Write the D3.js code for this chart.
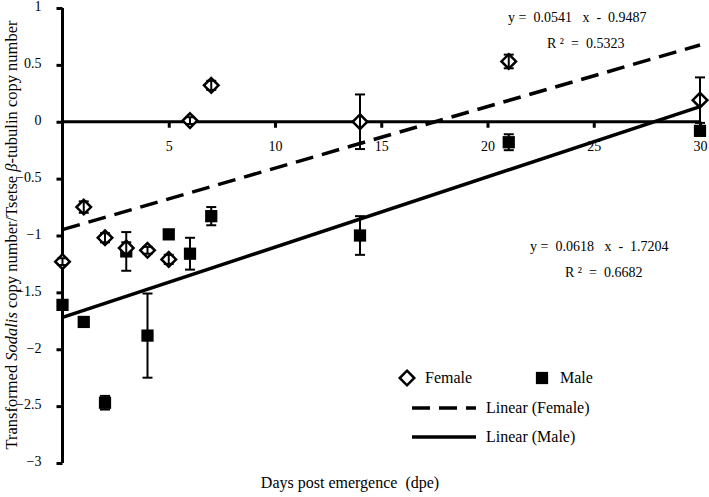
<!DOCTYPE html>
<html>
<head>
<meta charset="utf-8">
<script src="https://cdn.jsdelivr.net/npm/d3@7"></script>
<style>
  body { margin: 0; background: #fff; }
  svg text { font-family: "Liberation Serif", "DejaVu Serif", serif; fill: #000; }
</style>
</head>
<body>
<div id="chart"></div>
<script>
// Data
const days = [0, 1, 2, 3, 4, 5, 6, 7, 14, 21, 30];
const femaleMean = [-1.23, -0.75, -1.02, -1.11, -1.13, -1.21, 0.01, 0.32, 0.0, 0.53, 0.19];
const femaleErr = [0.03, 0.05, 0.04, 0.05, 0.03, 0.04, 0.03, 0.04, 0.24, 0.06, 0.2];
const maleMean = [-1.61, -1.76, -2.47, -1.14, -1.88, -0.99, -1.16, -0.83, -1.0, -0.18, -0.08];
const maleErr = [0.03, 0.02, 0.06, 0.17, 0.37, 0.03, 0.14, 0.08, 0.17, 0.07, 0.03];
const xTicks = [5, 10, 15, 20, 25, 30];
const yTicks = [1, 0.5, 0, -0.5, -1, -1.5, -2, -2.5, -3];
const femaleFit = { slope: 0.0541, intercept: -0.9487, r2: '0.5323' };
const maleFit = { slope: 0.0618, intercept: -1.7204, r2: '0.6682' };

const width = 709;
const height = 497;

const svg = d3.select('#chart').append('svg')
  .attr('width', width)
  .attr('height', height)
  .attr('font-family', '"Liberation Serif", "DejaVu Serif", serif');

// Scales
const x = d3.scaleLinear().domain([0, 30]).range([62.5, 700]);
const y = d3.scaleLinear().domain([-3, 1]).range([463, 8]);

// Y axis (vertical line on the left)
const yAxis = svg.append('g').attr('transform', `translate(${x(0)},0)`)
  .call(d3.axisLeft(y).tickValues(yTicks).tickSize(6).tickPadding(15)
    .tickFormat(d => d3.format('')(d)));
yAxis.attr('font-family', null);
yAxis.select('.domain').attr('stroke-width', 3).attr('d', `M0,${y(1)}V${y(-3)}`);
yAxis.selectAll('.tick line').attr('stroke-width', 3);
yAxis.selectAll('.tick text').style('font-size', '14px').attr('dy', '0.2em');

// X axis at y = 0
const xAxis = svg.append('g').attr('transform', `translate(0,${y(0)})`)
  .call(d3.axisBottom(x).tickValues(xTicks).tickSize(6).tickPadding(13));
xAxis.attr('font-family', null);
xAxis.select('.domain').attr('stroke-width', 3).attr('d', `M${x(0)},0H${x(30)}`);
xAxis.selectAll('.tick line').attr('stroke-width', 3);
xAxis.selectAll('.tick text').style('font-size', '14px');

// Trend lines
const fitLine = fit => [0, 30].map(d => [x(d), y(fit.slope * d + fit.intercept)]);
svg.append('path')
  .attr('d', d3.line()(fitLine(femaleFit)))
  .attr('stroke', '#000').attr('stroke-width', 3.5)
  .attr('stroke-dasharray', '18,9').attr('fill', 'none');
svg.append('path')
  .attr('d', d3.line()(fitLine(maleFit)))
  .attr('stroke', '#000').attr('stroke-width', 3.5).attr('fill', 'none');

// Error bars
function errorBars(means, errs) {
  const g = svg.append('g').attr('stroke', '#000').attr('stroke-width', 2);
  days.forEach((d, i) => {
    const top = y(means[i] + errs[i]);
    const bot = y(means[i] - errs[i]);
    g.append('line').attr('x1', x(d)).attr('x2', x(d)).attr('y1', top).attr('y2', bot);
    g.append('line').attr('x1', x(d) - 5).attr('x2', x(d) + 5).attr('y1', top).attr('y2', top);
    g.append('line').attr('x1', x(d) - 5).attr('x2', x(d) + 5).attr('y1', bot).attr('y2', bot);
  });
}

const diamond = d3.symbol().type(d3.symbolDiamond2).size(135);
const square = d3.symbol().type(d3.symbolSquare).size(150);

// Male squares
errorBars(maleMean, maleErr);
svg.append('g').selectAll('path')
  .data(days)
  .join('path')
  .attr('d', square)
  .attr('transform', (d, i) => `translate(${x(d)},${y(maleMean[i])})`)
  .attr('fill', '#000');

// Female diamonds
svg.append('g').selectAll('path')
  .data(days)
  .join('path')
  .attr('d', diamond)
  .attr('transform', (d, i) => `translate(${x(d)},${y(femaleMean[i])})`)
  .attr('fill', '#fff').attr('stroke', '#000').attr('stroke-width', 2.5);
errorBars(femaleMean, femaleErr);

// Equations
const eq = (fit) => `y =  ${fit.slope.toFixed(4)}   x  -  ${Math.abs(fit.intercept).toFixed(4)}`;
svg.append('text').attr('x', 508).attr('y', 22).style('font-size', '14px')
  .attr('xml:space', 'preserve').text(eq(femaleFit));
svg.append('text').attr('x', 547).attr('y', 48).style('font-size', '14px')
  .attr('xml:space', 'preserve').text(`R ²  =  ${femaleFit.r2}`);
svg.append('text').attr('x', 530).attr('y', 251).style('font-size', '14px')
  .attr('xml:space', 'preserve').text(eq(maleFit));
svg.append('text').attr('x', 565).attr('y', 277).style('font-size', '14px')
  .attr('xml:space', 'preserve').text(`R ²  =  ${maleFit.r2}`);

// Legend
const legend = svg.append('g').style('font-size', '16px');
legend.append('path').attr('d', diamond).attr('transform', 'translate(407,378)')
  .attr('fill', '#fff').attr('stroke', '#000').attr('stroke-width', 2.5);
legend.append('text').attr('x', 425).attr('y', 383).text('Female');
legend.append('path').attr('d', square).attr('transform', 'translate(542,378)')
  .attr('fill', '#000');
legend.append('text').attr('x', 560).attr('y', 383).text('Male');
legend.append('line').attr('x1', 412).attr('x2', 476).attr('y1', 408).attr('y2', 408)
  .attr('stroke', '#000').attr('stroke-width', 3.5).attr('stroke-dasharray', '18,9');
legend.append('text').attr('x', 486).attr('y', 413).text('Linear (Female)');
legend.append('line').attr('x1', 412).attr('x2', 476).attr('y1', 437).attr('y2', 437)
  .attr('stroke', '#000').attr('stroke-width', 3.5);
legend.append('text').attr('x', 486).attr('y', 442).text('Linear (Male)');

// Axis titles
svg.append('text').attr('x', 350).attr('y', 488).attr('text-anchor', 'middle')
  .style('font-size', '16px').attr('xml:space', 'preserve')
  .text('Days post emergence  (dpe)');

const yTitle = svg.append('text')
  .attr('transform', 'translate(17,235) rotate(-90)')
  .attr('text-anchor', 'middle')
  .style('font-size', '16.5px');
yTitle.append('tspan').text('Transformed ');
yTitle.append('tspan').style('font-style', 'italic').text('Sodalis');
yTitle.append('tspan').text(' copy number/Tsetse ');
yTitle.append('tspan').style('font-style', 'italic').text('β');
yTitle.append('tspan').text('-tubulin copy number');
</script>
</body>
</html>
